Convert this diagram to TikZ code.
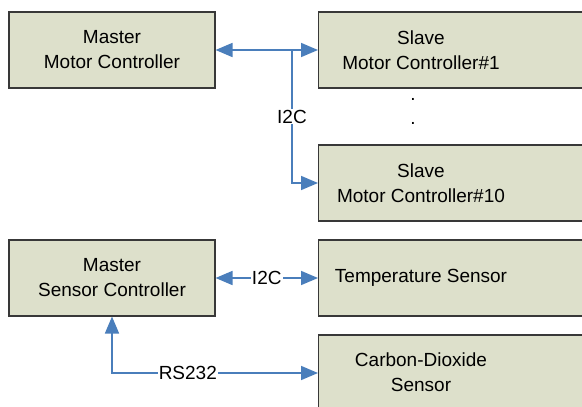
\documentclass[tikz,border=0pt]{standalone}
\usepackage{fontspec}
\setmainfont{Liberation Sans}
\usetikzlibrary{arrows.meta}
\definecolor{boxfill}{RGB}{221,224,203}
\definecolor{boxline}{RGB}{56,56,56}
\definecolor{busblue}{RGB}{74,126,187}

\begin{document}
\begin{tikzpicture}[x=1pt,y=-1pt,
  every node/.style={font=\fontsize{19}{25}\selectfont,align=center},
  >={Triangle[length=17pt,width=14pt]},
  box/.style={draw=boxline,line width=1.1pt,fill=boxfill,inner sep=0pt,
    minimum height=76pt},
  wide/.style={box,minimum width=300pt,anchor=west},
  bus/.style={draw=busblue,line width=1.7pt},
  buslabel/.style={fill=white,inner sep=1pt}]
  \useasboundingbox (0,0) rectangle (582,407);
  \clip (0,0) rectangle (582,407);

  % Motor controllers
  \node[box,minimum width=206pt] (mmc) at (112,50) {Master\\Motor Controller};
  \node[wide] (smc1) at (318,50) {};
  \node (smc1txt) at (421,50) {Slave\\Motor Controller\#1};
  \node[wide] (smc10) at (318,183) {};
  \node (smc10txt) at (421,183) {Slave\\Motor Controller\#10};
  \node (dot1) at (413,99) {.};
  \node (dot2) at (413,123) {.};

  \coordinate (split) at (292,50);
  \draw[bus,->] (split) -- (mmc.east);
  \draw[bus,->] (split) -- (smc1.west);
  \draw[bus,->] (split) |- (smc10.west)
    node[pos=0.25,buslabel] (i2cmot) {I2C};

  % Sensors
  \node[box,minimum width=206pt] (msc) at (112,278) {Master\\Sensor Controller};
  \node[wide] (temp) at (318,278) {};
  \node (temptxt) at (421,278) {Temperature Sensor};
  \node[wide] (co2) at (318,373) {};
  \node (co2txt) at (421,372) {Carbon-Dioxide\\Sensor};

  \draw[bus,<->] (msc.east) -- (temp.west)
    node[midway,buslabel] (i2csen) {I2C};
  \draw[bus,<->] (msc.south) |- (co2.west)
    node[pos=0.684,buslabel] (rs232) {RS232};
\end{tikzpicture}
\end{document}
